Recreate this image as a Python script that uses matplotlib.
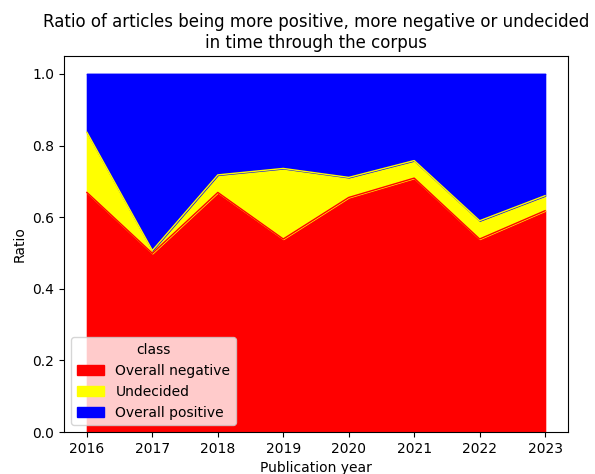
import matplotlib
matplotlib.use("Agg")
import matplotlib.pyplot as plt
import pandas as pd

years = [2016, 2017, 2018, 2019, 2020, 2021, 2022, 2023]
overall_negative = [0.669, 0.499, 0.669, 0.539, 0.655, 0.709, 0.539, 0.618]
undecided = [0.168, 0.008, 0.049, 0.197, 0.056, 0.049, 0.051, 0.042]
overall_positive = [1 - n - u for n, u in zip(overall_negative, undecided)]

df = pd.DataFrame(
    {"Overall negative": overall_negative,
     "Undecided": undecided,
     "Overall positive": overall_positive},
    index=pd.Index(years, name="Publication year"),
)
df.columns.name = "class"

fig = plt.figure(figsize=(5.95, 4.74), dpi=100)
ax = fig.add_axes([64 / 595, 1 - 432 / 474, (568 - 64) / 595, (432 - 56) / 474])
df.plot.area(ax=ax, stacked=True, alpha=1.0, color=["red", "yellow", "blue"], linewidth=1)

ax.set_ylabel("Ratio")
ax.set_xlabel("Publication year")
ax.set_title("Ratio of articles being more positive, more negative or undecided\n"
             "in time through the corpus")
ax.legend(title="class", loc="lower left")

fig.savefig("out.png", dpi=100)
